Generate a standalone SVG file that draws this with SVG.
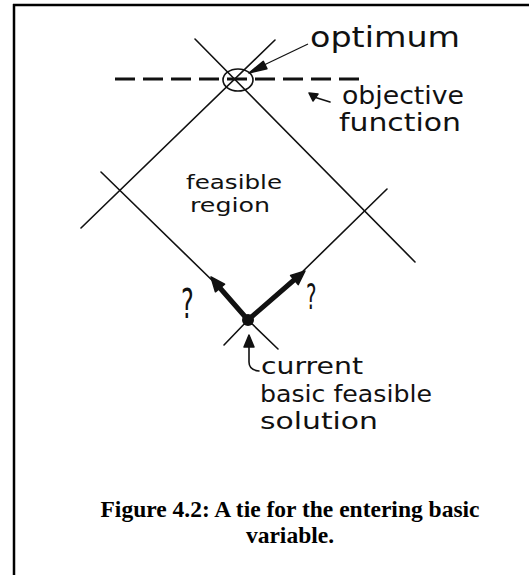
<svg xmlns="http://www.w3.org/2000/svg" width="529" height="575" viewBox="0 0 529 575">
<style>
.ln{stroke:#111;stroke-width:1.6;fill:none;stroke-linecap:round}
.thick{stroke:#111;stroke-width:5;fill:none;stroke-linecap:round}
.fillk{fill:#111;stroke:#111;stroke-width:1.5;stroke-linejoin:round}
.hw{font-family:"DejaVu Sans","Liberation Sans",sans-serif;fill:#111}
.cap{font-family:"Liberation Serif","Times New Roman",serif;font-weight:bold;font-size:23.5px;fill:#000;text-anchor:middle}
</style>
<rect width="529" height="575" fill="#fff"/>
<g id="frame">
<line x1="13" y1="5" x2="529" y2="5" stroke="#000" stroke-width="2.5"/>
<line x1="14" y1="4" x2="14" y2="575" stroke="#000" stroke-width="2.5"/>
</g>
<g id="constraints">
<line class="ln" x1="195" y1="39" x2="415" y2="262"/>
<line class="ln" x1="275" y1="40" x2="81" y2="228"/>
<line class="ln" x1="101" y1="172" x2="220" y2="288"/>
<line class="ln" x1="294" y1="280" x2="387" y2="189"/>
<line class="ln" x1="248" y1="320" x2="224" y2="345"/>
<line class="ln" x1="248" y1="320" x2="278" y2="349"/>
</g>
<g id="objective-function">
<line x1="115" y1="79" x2="367" y2="79" stroke="#111" stroke-width="3" stroke-dasharray="20 8"/>
</g>
<g id="optimum">
<ellipse cx="238" cy="80" rx="15" ry="11" class="ln"/>
</g>
<g id="current-bfs">
<circle cx="248" cy="320" r="6" fill="#111"/>
</g>
<g id="connectors">
<path class="thick" d="M248 320 L220 288"/>
<polygon class="fillk" points="211,277 224.6,284.2 215.4,291.8"/>
<path class="thick" d="M248 320 L294 280"/>
<polygon class="fillk" points="305,271 298.2,284.6 290.6,275.4"/>
<line x1="308" y1="44" x2="264" y2="65" stroke="#111" stroke-width="1.2"/>
<polygon class="fillk" points="249,73 266.9,68.7 263.3,61.3"/>
<path class="ln" d="M330 102 L314 97"/>
<polygon class="fillk" points="309,93 318,94 313,101"/>
<path class="ln" stroke-width="2" d="M259 371 Q249 370 249 362 L249 344"/>
<polygon class="fillk" points="249,335 244,347 254,347"/>
</g>
<g id="labels">
<text class="hw" x="310" y="47" style="font-size:28px" textLength="150" lengthAdjust="spacingAndGlyphs">optimum</text>
<text class="hw" x="342" y="104" style="font-size:24px" textLength="122" lengthAdjust="spacingAndGlyphs">objective</text>
<text class="hw" x="339" y="131" style="font-size:24px" textLength="122" lengthAdjust="spacingAndGlyphs">function</text>
<text class="hw" x="186" y="189" style="font-size:20px" textLength="96" lengthAdjust="spacingAndGlyphs">feasible</text>
<text class="hw" x="190" y="212" style="font-size:20px" textLength="80" lengthAdjust="spacingAndGlyphs">region</text>
<text class="hw" x="261" y="374" style="font-size:23px" textLength="102" lengthAdjust="spacingAndGlyphs">current</text>
<text class="hw" x="260" y="402" style="font-size:23px" textLength="172" lengthAdjust="spacingAndGlyphs">basic feasible</text>
<text class="hw" x="260" y="429" style="font-size:23px" textLength="118" lengthAdjust="spacingAndGlyphs">solution</text>
<text class="hw" x="0" y="0" style="font-size:40px" transform="translate(181,318) scale(0.6,1)">?</text>
<text class="hw" x="0" y="0" style="font-size:36px" transform="translate(306,309) scale(0.55,1)">?</text>
</g>
<g id="caption">
<text class="cap" x="290" y="517">Figure 4.2: A tie for the entering basic</text>
<text class="cap" x="290" y="543">variable.</text>
</g>
</svg>
